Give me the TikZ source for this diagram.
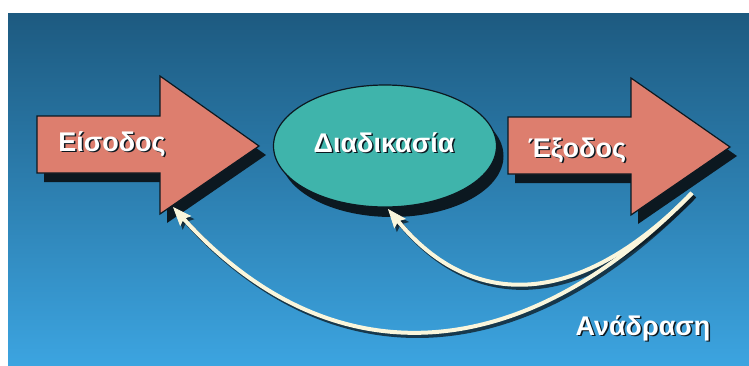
\documentclass[tikz,border=0pt]{standalone}
\usepackage{fontspec}
\setmainfont{Liberation Sans}
\usetikzlibrary{arrows.meta,shapes.geometric}
\definecolor{bgtop}{HTML}{1D5A80}
\definecolor{bgmid}{HTML}{226CB0}
\definecolor{bgbot}{HTML}{3CA4E0}
\definecolor{salmon}{HTML}{DD7E6E}
\definecolor{tealfill}{HTML}{3FB4AB}
\definecolor{shadowc}{HTML}{0C1820}
\definecolor{cream}{HTML}{FAF6DC}
\tikzset{
  bigarrow/.style={fill=salmon, draw=shadowc, line width=1.2pt, line join=miter},
  shadowfill/.style={fill=shadowc, draw=none},
  lbl/.style={anchor=base, text=white, font=\fontsize{27}{27}\selectfont\bfseries, inner sep=0pt},
  lblshadow/.style={anchor=base, text=shadowc, font=\fontsize{27}{27}\selectfont\bfseries, inner sep=0pt},
  fbline/.style={draw=cream, line width=4pt, -{Stealth[length=19pt,width=15pt,inset=3pt,fill=cream,line width=0.8pt]}},
  fbshadow/.style={draw=shadowc, opacity=0.75, line width=4.5pt, -{Stealth[length=19pt,width=15pt,inset=3pt]}},
}
\begin{document}
\begin{tikzpicture}[x=1pt,y=-1pt]
\useasboundingbox (0,0) rectangle (749,365);
\fill[white] (0,0) rectangle (749,365);
\shade[top color=bgtop, middle color=bgmid, bottom color=bgbot] (8,13) rectangle (749,365);

% shadows of main shapes
\fill[shadowfill] (44,125) -- (167,125) -- (167,85) -- (266,155) -- (167,223) -- (167,182) -- (44,182) -- cycle;
\fill[shadowfill] (515,126) -- (638,126) -- (638,87) -- (737,156) -- (638,224) -- (638,183) -- (515,183) -- cycle;
\node[ellipse, shadowfill, minimum width=223pt, minimum height=122pt, inner sep=0pt] at (392,156) {};

% input arrow
\draw[bigarrow] (37,116) -- (160,116) -- (160,76) -- (259,146) -- (160,214) -- (160,173) -- (37,173) -- cycle;
% output arrow
\draw[bigarrow] (508,117) -- (631,117) -- (631,78) -- (730,147) -- (631,215) -- (631,174) -- (508,174) -- cycle;
% process ellipse
\node[ellipse, fill=tealfill, draw=shadowc, line width=1.2pt, minimum width=223pt, minimum height=122pt, inner sep=0pt] (proc) at (385,146) {};

% labels
\node[lblshadow] at (113.5,152.5) {Είσοδος};
\node[lbl] (in) at (112,151) {Είσοδος};
\node[lblshadow] at (385.5,153.5) {Διαδικασία};
\node[lbl] (proclbl) at (384,152) {Διαδικασία};
\node[lblshadow] at (578.5,158.5) {Έξοδος};
\node[lbl] (out) at (577,157) {Έξοδος};
\node[lblshadow] at (644.5,336.5) {Ανάδραση};
\node[lbl] (fb) at (643,335) {Ανάδραση};

% feedback connectors
\coordinate (fbstart) at (692,193);
\coordinate (intip) at (173,207);
\coordinate (proctip) at (388,209);
\begin{scope}[transform canvas={shift={(2.5pt,-3pt)}}]
\draw[fbshadow] (fbstart) .. controls (518,372) and (327.5,377.6) .. (intip);
\draw[fbshadow] (fbstart) .. controls (580,308) and (473,312) .. (proctip);
\end{scope}
\draw[fbline] (fbstart) .. controls (518,372) and (327.5,377.6) .. (intip);
\draw[fbline] (fbstart) .. controls (580,308) and (473,312) .. (proctip);
\end{tikzpicture}
\end{document}
